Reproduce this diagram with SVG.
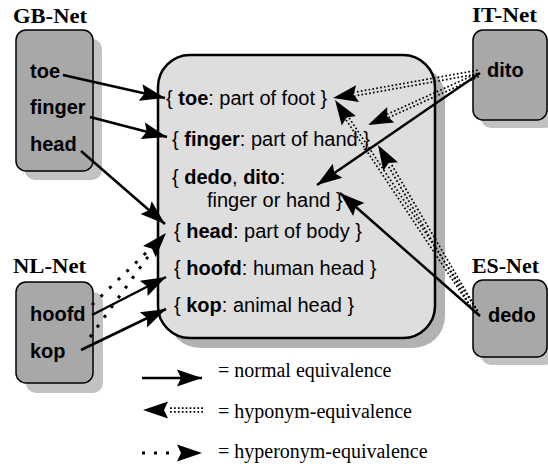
<svg xmlns="http://www.w3.org/2000/svg" width="548" height="469" viewBox="0 0 548 469">
<style>
.net{fill:#a8a8a8;stroke:#000;stroke-width:1.5}
.sh{fill:#c2c2c2}
.lbl{font-family:"Liberation Serif","Times New Roman",serif;font-weight:bold;font-size:21px;fill:#000}
.nt{font-family:"Liberation Sans",Arial,sans-serif;font-weight:bold;font-size:20px;fill:#000}
.st{font-family:"Liberation Sans",Arial,sans-serif;font-size:20px;fill:#000}
.st tspan.b{font-weight:bold}
.lg{font-family:"Liberation Serif","Times New Roman",serif;font-size:20px;fill:#000}
.norm{fill:none;stroke:#000;stroke-width:2.5;marker-end:url(#ah)}
.hypo{fill:none;stroke:#000;stroke-width:1.7;stroke-dasharray:1.7 2.2}
.hyper{fill:none;stroke:#000;stroke-width:3;stroke-dasharray:3 9}
.head{fill:none;stroke:none;marker-end:url(#ah)}
</style>
<defs>
<marker id="ah" viewBox="-28 -10 30 20" refX="0" refY="0" markerWidth="30" markerHeight="20" markerUnits="userSpaceOnUse" orient="auto">
<path d="M0,0 L-25,-8.5 L-21,0 L-25,8.5 Z" fill="#000"/>
</marker>
</defs>

<g id="synsets">
<rect x="168" y="65" width="277" height="283" rx="32" fill="#b2b2b2"/>
<rect x="158" y="55" width="277" height="283" rx="32" fill="#dedede" stroke="#000" stroke-width="2.5"/>
<text class="st" x="166" y="105">{ <tspan class="b">toe</tspan>: part of foot }</text>
<text class="st" x="172" y="146">{ <tspan class="b">finger</tspan>: part of hand }</text>
<text class="st" x="172" y="184">{ <tspan class="b">dedo</tspan>, <tspan class="b">dito</tspan>:</text>
<text class="st" x="207" y="207">finger or hand }</text>
<text class="st" x="174" y="238">{ <tspan class="b">head</tspan>: part of body }</text>
<text class="st" x="174" y="275">{ <tspan class="b">hoofd</tspan>: human head }</text>
<text class="st" x="174" y="312">{ <tspan class="b">kop</tspan>: animal head }</text>
</g>

<g id="gb-net">
<text class="lbl" x="13" y="23" textLength="74" lengthAdjust="spacingAndGlyphs">GB-Net</text>
<rect class="sh" x="25" y="39" width="77" height="141" rx="10"/>
<rect class="net" x="16" y="30" width="77" height="141" rx="10"/>
<text class="nt" x="30" y="78">toe</text>
<text class="nt" x="30" y="114">finger</text>
<text class="nt" x="30" y="151">head</text>
</g>

<g id="nl-net">
<text class="lbl" x="13" y="273" textLength="73" lengthAdjust="spacingAndGlyphs">NL-Net</text>
<rect class="sh" x="26" y="292" width="77" height="101" rx="10"/>
<rect class="net" x="16" y="282" width="77" height="101" rx="10"/>
<text class="nt" x="30" y="321">hoofd</text>
<text class="nt" x="30" y="358">kop</text>
</g>

<g id="it-net">
<text class="lbl" x="472" y="22" textLength="65" lengthAdjust="spacingAndGlyphs">IT-Net</text>
<rect class="sh" x="481" y="38" width="74" height="90" rx="10"/>
<rect class="net" x="473" y="30" width="74" height="90" rx="10"/>
<text class="nt" x="487" y="77">dito</text>
</g>

<g id="es-net">
<text class="lbl" x="472" y="273" textLength="67" lengthAdjust="spacingAndGlyphs">ES-Net</text>
<rect class="sh" x="481" y="288" width="74" height="77" rx="10"/>
<rect class="net" x="473" y="280" width="74" height="77" rx="10"/>
<text class="nt" x="488" y="322">dedo</text>
</g>

<g id="connectors">
<path class="norm" d="M63,75 L165,98"/>
<path class="norm" d="M90,117 L167,137"/>
<path class="norm" d="M81,151 L165,224"/>
<path class="norm" d="M92,315 L166,277"/>
<path class="norm" d="M81,350 L166,309"/>
<path class="norm" d="M480,73 L317,185"/>
<path class="norm" d="M480,316 L340,193"/>

<path class="hypo" d="M478.3,73.8 L355,95.9"/>
<path class="hypo" d="M477.7,70.2 L354.4,92.3"/>
<path class="head" d="M478,72 L333,98"/>

<path class="hypo" d="M478.75,76.64 L388.75,117.54"/>
<path class="hypo" d="M477.25,73.36 L387.25,114.26"/>
<path class="head" d="M478,75 L368,125"/>

<path class="hypo" d="M474.5,313 L345.7,119.3"/>
<path class="hypo" d="M477.5,311 L348.7,117.3"/>
<path class="head" d="M476,312 L335,100"/>

<path class="hypo" d="M474.45,312.91 L387.55,164.91"/>
<path class="hypo" d="M477.55,311.09 L390.65,163.09"/>
<path class="head" d="M476,312 L378,145"/>

<path class="hyper" d="M92,305 L150,249"/>
<path class="hyper" d="M90,337 L150,254"/>
<path class="head" d="M150,251 L166,233"/>
</g>

<g id="legend">
<path class="norm" d="M142,378 L202,378"/>
<text class="lg" x="218" y="377">= normal equivalence</text>
<path class="hypo" d="M203,408.2 L168,408.2"/>
<path class="hypo" d="M203,411.8 L168,411.8"/>
<path class="head" d="M203,410 L143,410"/>
<text class="lg" x="218" y="418">= hyponym-equivalence</text>
<path class="hyper" d="M142,453 L178,453"/>
<path class="head" d="M142,453 L202,453"/>
<text class="lg" x="218" y="458">= hyperonym-equivalence</text>
</g>
</svg>
